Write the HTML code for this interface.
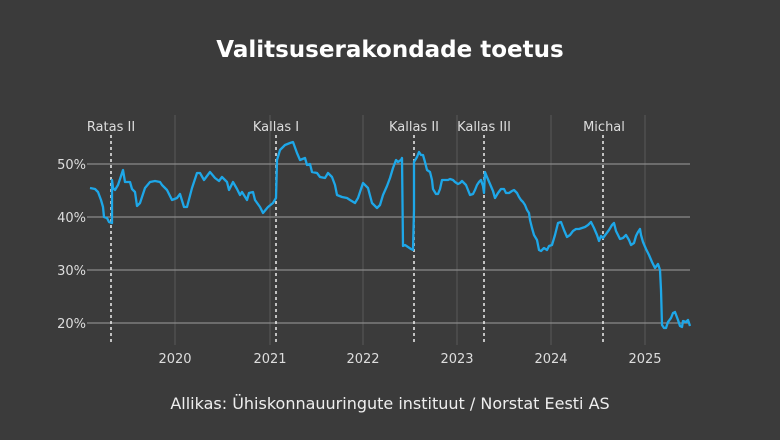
<!DOCTYPE html>
<html><head><meta charset="utf-8"><style>
body{margin:0;background:#3b3b3b;}
svg{display:block;font-family:"DejaVu Sans","Liberation Sans",sans-serif;}
</style></head><body>
<svg width="780" height="440" viewBox="0 0 780 440">
<rect width="780" height="440" fill="#3b3b3b"/>
<text x="390" y="57" fill="#fff" font-size="23" font-weight="bold" text-anchor="middle">Valitsuserakondade toetus</text>
<g stroke="#5a5a5a" stroke-width="1">
<line x1="175" y1="115" x2="175" y2="345"/><line x1="270" y1="115" x2="270" y2="345"/>
<line x1="363" y1="115" x2="363" y2="345"/><line x1="457" y1="115" x2="457" y2="345"/>
<line x1="551" y1="115" x2="551" y2="345"/><line x1="645" y1="115" x2="645" y2="345"/>
</g>
<g stroke="#8a8a8a" stroke-width="1.3">
<line x1="87" y1="164" x2="690" y2="164"/><line x1="87" y1="217" x2="690" y2="217"/>
<line x1="87" y1="270" x2="690" y2="270"/><line x1="87" y1="323" x2="690" y2="323"/>
</g>
<g fill="#ddd" font-size="13" text-anchor="end">
<text x="86" y="169">50%</text><text x="86" y="222">40%</text><text x="86" y="275">30%</text><text x="86" y="328">20%</text>
</g>
<g fill="#ddd" font-size="13" text-anchor="middle">
<text x="175" y="363">2020</text><text x="270" y="363">2021</text><text x="363" y="363">2022</text>
<text x="457" y="363">2023</text><text x="551" y="363">2024</text><text x="645" y="363">2025</text>
</g>
<g stroke="#eee" stroke-width="1.5" stroke-dasharray="3,3">
<line x1="111" y1="135" x2="111" y2="345"/><line x1="276" y1="135" x2="276" y2="345"/>
<line x1="414" y1="135" x2="414" y2="345"/><line x1="484" y1="135" x2="484" y2="345"/>
<line x1="603" y1="135" x2="603" y2="345"/>
</g>
<g fill="#ddd" font-size="13" text-anchor="middle">
<text x="111" y="131">Ratas II</text><text x="276" y="131">Kallas I</text><text x="414" y="131">Kallas II</text>
<text x="484" y="131">Kallas III</text><text x="604" y="131">Michal</text>
</g>
<polyline fill="none" stroke="#1ea7e8" stroke-width="2.3" stroke-linejoin="round" points="90,188 95,189 98,192 101,200 103,207 104,217 107,218 109,222 112,223 112,180 113,188 115,190 118,185 123,170 125,182 130,182 132,189 135,192 137,206 140,203 145,188 150,182 155,181 160,182 162,185 167,190 172,200 177,198 180,194 184,207 187,207 192,188 197,173 200,173 204,180 210,172 215,178 219,181 222,177 227,182 229,190 233,182 237,189 240,195 242,192 247,200 249,193 253,192 255,200 260,207 263,213 268,207 273,203 276,198 277,160 280,150 285,145 290,143 293,142 297,153 300,160 305,158 307,165 310,164 312,172 317,173 320,177 325,178 328,173 332,177 335,185 337,195 342,197 347,198 350,200 355,203 358,198 363,183 368,188 372,203 377,208 380,205 383,195 387,186 390,178 393,168 396,160 398,162 401,160 402,158 403,246 405,245 408,247 411,249 413,250 414,210 414,162 417,157 419,152 421,155 423,155 425,162 427,170 430,172 432,180 433,189 436,194 438,194 440,189 442,180 445,180 448,180 450,179 453,180 455,182 458,184 460,183 462,181 464,183 466,185 468,190 470,195 473,194 475,190 477,185 479,182 481,180 483,186 484,193 485,172 487,177 490,184 493,191 495,198 498,193 501,189 504,189 506,193 509,193 512,191 514,190 517,193 519,197 521,200 523,202 525,205 527,210 529,213 530,220 532,228 534,235 537,240 539,250 541,251 544,248 547,250 549,246 552,245 555,235 558,223 561,222 564,230 567,237 570,235 573,231 576,229 579,229 582,228 585,227 588,225 591,222 594,228 597,235 599,241 601,236 603,238 606,234 609,230 612,225 614,223 616,231 618,235 620,239 623,238 626,235 629,240 631,245 634,243 636,236 638,232 640,229 641,235 643,242 646,249 649,255 652,262 655,268 658,264 660,270 661,290 662,325 664,328 666,328 668,322 671,318 673,313 675,312 678,320 680,326 682,327 683,321 686,322 688,320 690,326"/>
<text x="390" y="409" fill="#eee" font-size="16" text-anchor="middle">Allikas: Ühiskonnauuringute instituut / Norstat Eesti AS</text>
</svg>
</body></html>
